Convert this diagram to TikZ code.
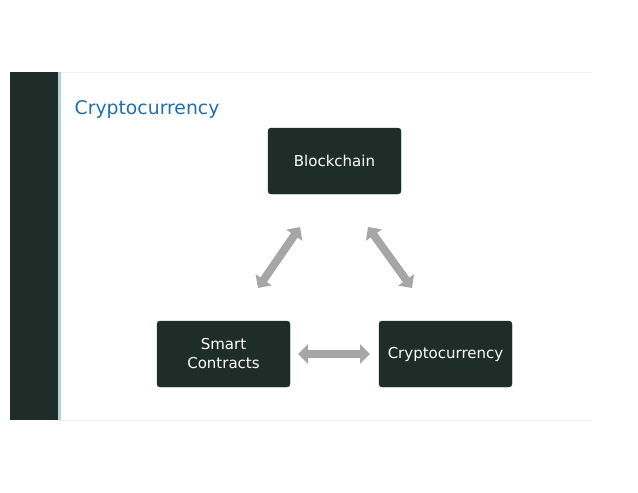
\documentclass[tikz,border=0pt]{standalone}
\usepackage{fontspec}
\setmainfont{DejaVu Sans}
\usetikzlibrary{arrows.meta}

\definecolor{darkslide}{RGB}{31,45,41}
\definecolor{titleblue}{RGB}{31,111,175}
\definecolor{arrowgray}{RGB}{166,166,166}
\definecolor{stripe}{RGB}{175,212,212}
\definecolor{edgeline}{RGB}{236,240,240}

\tikzset{
  box/.style={fill=darkslide, draw=darkslide, rounded corners=3pt, minimum width=133pt, minimum height=66pt, align=center, text=white, font=\fontsize{15}{19}\selectfont},
  dbl/.style={line width=8pt, color=arrowgray, {Triangle[width=19pt,length=10pt]}-{Triangle[width=19pt,length=10pt]}}
}

\begin{document}
\begin{tikzpicture}[x=1pt, y=-1pt] %% slide layout
\useasboundingbox (0,0) rectangle (638,493);

\draw[edgeline, line width=1pt] (58,72) -- (592,72); \draw[edgeline, line width=1pt] (58,420) -- (592,420); %bordi
\fill[darkslide] (10,72) rectangle (58,420); %barra
\fill[stripe] (58,72) rectangle (60.5,420);

\node[anchor=west, text=titleblue, font=\fontsize{18.8}{22}\selectfont, inner sep=0pt] (title) at (74.5,109) {Cryptocurrency};

\node[box] (blockchain) at (334.5,161) {Blockchain};
\node[box] (contracts) at (223.5,354) {Smart\\Contracts};
\node[box] (currency) at (445.5,354) {Cryptocurrency};

\coordinate (bl) at (300,227); \coordinate (cl) at (258,288); %freccia
\coordinate (br) at (368,227); \coordinate (ur) at (412,288); %freccia
\coordinate (ch) at (298,354); \coordinate (uh) at (370,354); %freccia

\draw[dbl] (bl) -- (cl);
\draw[dbl] (br) -- (ur);
\draw[dbl] (ch) -- (uh);

\end{tikzpicture}
\end{document}
